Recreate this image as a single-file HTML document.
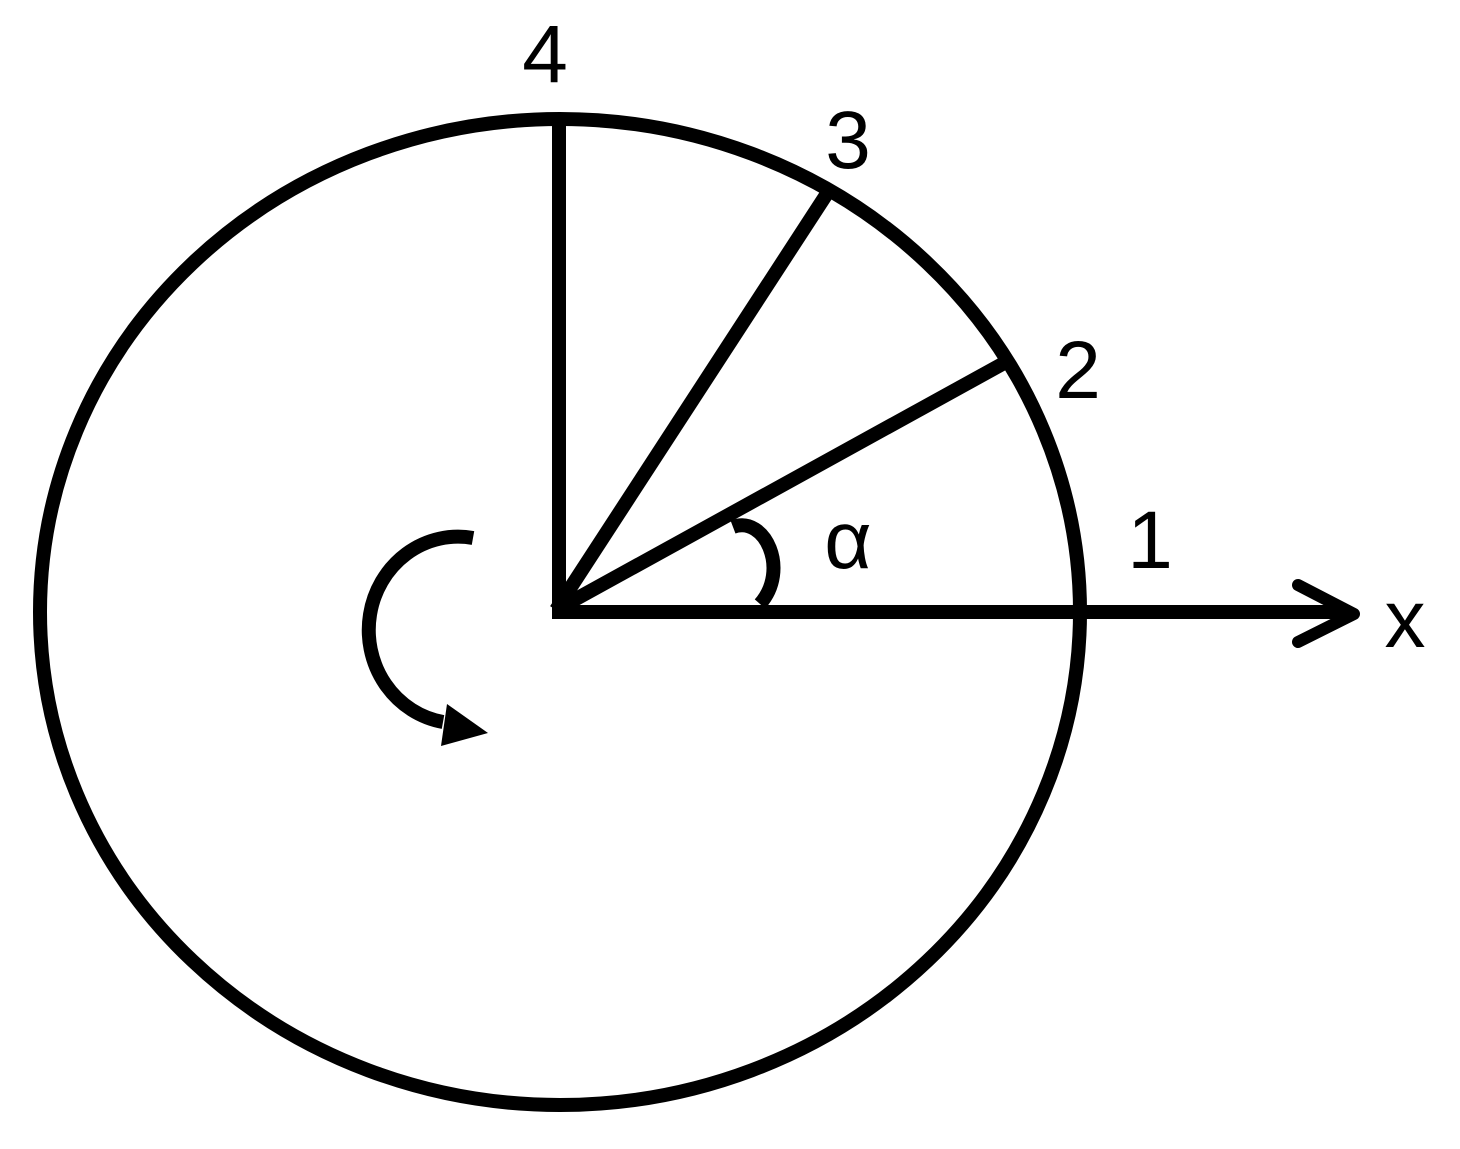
<!DOCTYPE html>
<html><head><style>html,body{margin:0;padding:0;background:#fff;}</style></head>
<body>
<svg width="1460" height="1144" viewBox="0 0 1460 1144" xmlns="http://www.w3.org/2000/svg">
<g fill="none" stroke="#000" stroke-width="14">
<ellipse cx="560" cy="612" rx="520" ry="493"/>
<line x1="559" y1="612" x2="559" y2="119"/>
<line x1="552" y1="612" x2="1350" y2="612"/>
<line x1="556" y1="610" x2="828" y2="192"/>
<line x1="556" y1="610" x2="1006" y2="362"/>
<path d="M733,527 C765,515 790,570 760,604"/>
<path d="M473,538 A88,92 0 0 0 443,722"/>
</g>
<polyline points="1298,585 1354,614 1298,642" fill="none" stroke="#000" stroke-width="12" stroke-linecap="round" stroke-linejoin="round"/>
<polygon points="447,704 488,733 441,746" fill="#000"/>
<g font-family="Liberation Sans, sans-serif" font-size="82" fill="#000">
<text x="545" y="82" text-anchor="middle">4</text>
<text x="848" y="168" text-anchor="middle">3</text>
<text x="1078" y="398" text-anchor="middle">2</text>
<text x="1150" y="568" text-anchor="middle">1</text>
<text x="848" y="568" text-anchor="middle">α</text>
<text x="1405" y="647" text-anchor="middle">x</text>
</g>
</svg>
</body></html>
